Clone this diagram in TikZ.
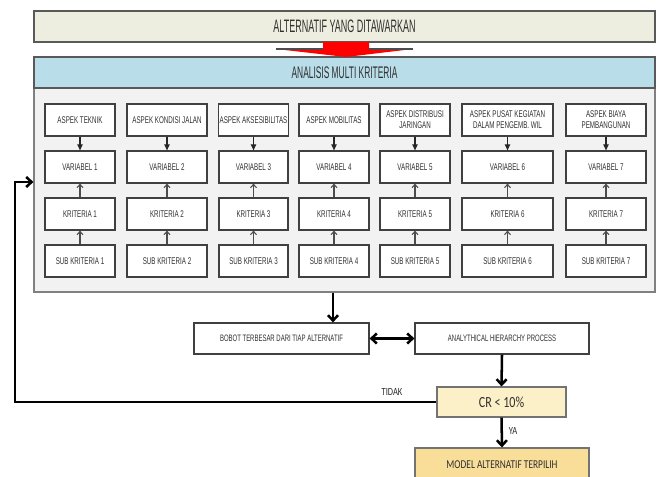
\documentclass[tikz,border=0pt]{standalone}
\usepackage{fontspec}
\usetikzlibrary{arrows.meta}
\newfontfamily\nfont[FakeStretch=0.64]{Liberation Sans}
\newfontfamily\hfont[FakeStretch=0.5]{Liberation Sans}
\newfontfamily\cfont[FakeStretch=0.78]{Carlito}
\definecolor{topfill}{HTML}{EEEEE0}
\definecolor{bluefill}{HTML}{B9DDE9}
\definecolor{panelfill}{HTML}{F2F2F2}
\definecolor{crfill}{HTML}{FBF0C8}
\definecolor{modelfill}{HTML}{F9DE9A}
\definecolor{txt}{HTML}{303030}
\newcommand\mybox[7]{\node[#1, minimum width={(#5-#3)*0.75pt}, minimum height={(#6-#4)*0.75pt}] (#2) at ({(#3+#5)/2},{(#4+#6)/2}) {#7};}
\tikzset{
  bigbox/.style={draw=black!65, line width=0.9pt, inner sep=0pt, text=txt},
  smallbox/.style={draw=black!75, line width=0.9pt, fill=white, inner sep=1pt, align=center, text=txt, font=\nfont\fontsize{7.3}{8.3}\selectfont},
  flowbox/.style={draw=black!75, line width=0.9pt, fill=white, inner sep=1pt, align=center, text=txt, font=\nfont\fontsize{7.0}{8.3}\selectfont},
  decbox/.style={draw=black!55, line width=0.9pt, inner sep=1pt, align=center, text=txt},
  downarr/.style={draw=black!85, line width=0.8pt, -{Triangle[length=4.5pt,width=4pt]}},
  uparr/.style={draw=black!70, line width=0.8pt, -{Straight Barb[length=2.5pt,width=4.5pt]}},
  bigarr/.style={draw=black, line width=1.9pt, -{Straight Barb[length=4pt,width=7.5pt]}},
  lbl/.style={text=txt, inner sep=0pt, font=\cfont\fontsize{8.2}{9}\selectfont}
}
\begin{document}
\begin{tikzpicture}[x=0.75pt,y=-0.75pt]
\useasboundingbox (0,0) rectangle (659,477);
\fill[white] (0,0) rectangle (659,477);
% header boxes
\mybox{bigbox, fill=topfill, font=\hfont\fontsize{13.5}{14}\selectfont}{top}{34}{11}{655}{42}{ALTERNATIF YANG DITAWARKAN}
\mybox{bigbox, fill=panelfill, draw=black!50}{panel}{34}{88}{655}{292}{}
\mybox{bigbox, fill=bluefill, font=\hfont\fontsize{12.6}{13}\selectfont}{multi}{34}{57}{655}{88}{ANALISIS MULTI KRITERIA}
% red arrow
\fill[red] (323,42) -- (369,42) -- (369,49) -- (413,49) -- (346,57) -- (276,49) -- (323,49) -- cycle;
\draw[black!70, line width=1.2pt] (276,49) -- (323,49) (369,49) -- (413,49);
% columns
\foreach \i/\xa/\xb/\t in {1/45/115/{ASPEK TEKNIK},2/127/207/{ASPEK KONDISI JALAN},3/219/288/{ASPEK AKSESIBILITAS},4/299/369/{ASPEK MOBILITAS},5/380/450/{ASPEK DISTRIBUSI\\JARINGAN},6/462/553/{ASPEK PUSAT KEGIATAN\\DALAM PENGEMB. WIL},7/566/646/{ASPEK BIAYA\\PEMBANGUNAN}}{
  \mybox{smallbox}{asp\i}{\xa}{104}{\xb}{136}{\t}
  \mybox{smallbox}{var\i}{\xa}{151}{\xb}{183}{VARIABEL \i}
  \mybox{smallbox}{kri\i}{\xa}{198}{\xb}{230}{KRITERIA \i}
  \mybox{smallbox}{sub\i}{\xa}{245}{\xb}{277}{SUB KRITERIA \i}
  \draw[downarr] (asp\i) -- (var\i);
  \draw[uparr] (kri\i) -- (var\i);
  \draw[uparr] (sub\i) -- (kri\i);
}
% flow part
\mybox{flowbox}{bobot}{194}{323}{369}{354}{BOBOT TERBESAR DARI TIAP ALTERNATIF}
\mybox{flowbox}{ahp}{415}{323}{589}{354}{ANALYTHICAL HIERARCHY PROCESS}
\mybox{decbox, fill=crfill, font=\cfont\fontsize{11.6}{12}\selectfont}{cr}{437}{387}{566}{417}{CR < 10\%}
\mybox{decbox, fill=modelfill, font=\cfont\fontsize{9}{10}\selectfont}{model}{415}{448}{589}{482}{MODEL ALTERNATIF TERPILIH}
\fill[white] (400,478) rectangle (600,490);
\coordinate (pdown) at (333,300);
\coordinate (fb) at (15,182);
\draw[bigarr] (panel.south -| pdown) -- (bobot.north -| pdown);
\draw[bigarr, {Straight Barb[length=4pt,width=7.5pt]}-{Straight Barb[length=4pt,width=7.5pt]}] (bobot.east) -- (ahp.west);
\draw[bigarr] (ahp.south) -- (cr.north);
\draw[bigarr] (cr.south) -- (model.north);
\draw[bigarr] (cr.west) -| (fb) -- (fb -| panel.west);
\node[lbl] (tidak) at (392,392) {TIDAK};
\node[lbl] (ya) at (513,431) {YA};
\end{tikzpicture}
\end{document}
